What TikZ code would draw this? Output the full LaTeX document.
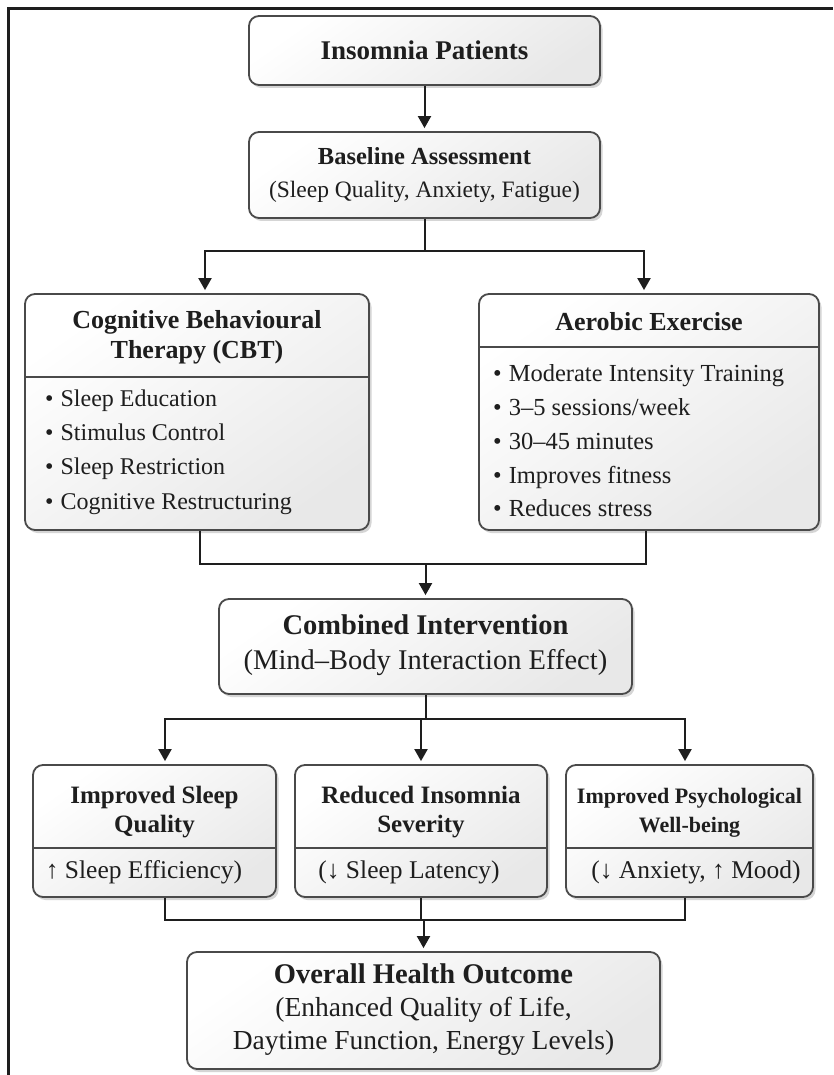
\documentclass[tikz,border=0pt]{standalone}
\usepackage{fontspec}
\setmainfont{Liberation Serif}
\usetikzlibrary{arrows.meta,shadows,calc}
\definecolor{ink}{HTML}{1E1E1E}
\definecolor{edge}{HTML}{4A4A4A}
\newcommand\fsz[2]{\fontsize{#1}{#2}\selectfont}
\begin{document}
\begin{tikzpicture}[x=1pt,y=-1pt,
  box/.style={draw=edge, line width=1.8pt, rounded corners=10pt,
    top color=white, bottom color=gray!18, shading angle=35,
    drop shadow={shadow xshift=2.5pt, shadow yshift=-3pt, fill=gray!55, opacity=0.6},
    inner sep=0pt},
  txt/.style={inner sep=0pt, text=ink, align=center},
  bul/.style={inner sep=0pt, text=ink, align=left, anchor=west},
  link/.style={draw=ink, line width=2pt},
  arr/.style={link, -{Triangle[length=12pt,width=13pt]}, shorten >=3pt},
  divider/.style={draw=edge, line width=1.6pt},
  frame/.style={draw=ink, line width=2.2pt}
]
\useasboundingbox (0,0) rectangle (833,1075);
\fill[white] (0,0) rectangle (833,1075);
\draw[frame] (8.5,1075) -- (8.5,8.5) -- (833,8.5);

% boxes
\node[box, minimum width=351pt, minimum height=69pt] (p) at (424.5,50.5) {};
\node[txt, font={\bfseries\fsz{27}{32}}] (pT) at (p.center) {Insomnia Patients};

\node[box, minimum width=351pt, minimum height=86pt] (b) at (424.5,175) {};
\node[txt, font={\fsz{23.5}{33}}] (bT) at (b.center) {{\bfseries\fsz{24.5}{33}Baseline Assessment}\\(Sleep Quality, Anxiety, Fatigue)};

\node[box, minimum width=344pt, minimum height=236pt] (cbt) at (197,412) {};
\draw[divider] ([yshift=-84pt]cbt.north west) -- ([yshift=-84pt]cbt.north east);
\node[txt, font={\bfseries\fsz{26}{30}}] (cbtT) at (197,337) {Cognitive Behavioural\\Therapy (CBT)};
\node[bul, font={\fsz{24}{34.3}}] (cbtL) at (45,452) {\textbullet\hspace{7pt}Sleep Education\\\textbullet\hspace{7pt}Stimulus Control\\\textbullet\hspace{7pt}Sleep Restriction\\\textbullet\hspace{7pt}Cognitive Restructuring};

\node[box, minimum width=340pt, minimum height=236pt] (aer) at (649,412) {};
\draw[divider] ([yshift=-54pt]aer.north west) -- ([yshift=-54pt]aer.north east);
\node[txt, font={\bfseries\fsz{26}{30}}] (aerT) at (649,322) {Aerobic Exercise};
\node[bul, font={\fsz{24.5}{33.75}}] (aerL) at (493,441) {\textbullet\hspace{7pt}Moderate Intensity Training\\\textbullet\hspace{7pt}3–5 sessions/week\\\textbullet\hspace{7pt}30–45 minutes\\\textbullet\hspace{7pt}Improves fitness\\\textbullet\hspace{7pt}Reduces stress};

\node[box, minimum width=413pt, minimum height=95pt] (comb) at (425.5,646.5) {};
\node[txt, font={\fsz{28.5}{35}}] (combT) at (425.5,645) {{\bfseries Combined Intervention}\\(Mind–Body Interaction Effect)};

\node[box, minimum width=243pt, minimum height=132pt] (A) at (154.5,831) {};
\node[box, minimum width=252pt, minimum height=132pt] (B) at (421,831) {};
\node[box, minimum width=247pt, minimum height=132pt] (C) at (689.5,831) {};
\foreach \n in {A,B,C}{
  \draw[divider] ([yshift=-84pt]\n.north west) -- ([yshift=-84pt]\n.north east);
}
\node[txt, font={\bfseries\fsz{25}{29}}] (AT) at (154.5,812.5) {Improved Sleep\\Quality};
\node[txt, font={\bfseries\fsz{25}{29}}] (BT) at (421,812.5) {Reduced Insomnia\\Severity};
\node[txt, font={\bfseries\fsz{22}{29}}] (CT) at (689.5,812.5) {Improved Psychological\\Well-being};
\node[txt, font={\fsz{25.5}{30}}] (AS) at (144,872) {↑ Sleep Efficiency)};
\node[txt, font={\fsz{25.5}{30}}] (BS) at (409,872) {(↓ Sleep Latency)};
\node[txt, font={\fsz{25.5}{30}}] (CS) at (696,872) {(↓ Anxiety, ↑ Mood)};

\node[box, minimum width=473pt, minimum height=117pt] (out) at (423.5,1010.5) {};
\node[txt, font={\fsz{27.5}{33}}] (outT) at (423.5,1010) {{\bfseries\fsz{28.5}{33}Overall Health Outcome}\\(Enhanced Quality of Life,\\Daytime Function, Energy Levels)};

% connectors
\draw[arr] (p.south) -- (b.north);
\coordinate (j1) at ($(b.south)+(0,32)$);
\draw[link] (b.south) -- (j1);
\draw[arr] (j1) -| ([xshift=8pt]cbt.north);
\draw[arr] (j1) -| ([xshift=-5pt]aer.north);

\coordinate (j2) at ($(comb.north)+(0,-34)$);
\draw[link] ([xshift=3pt]cbt.south) |- (j2) -| ([xshift=-3pt]aer.south);
\draw[arr] (j2) -- (comb.north);

\coordinate (j3) at ($(comb.south)+(0,24)$);
\draw[link] (comb.south) -- (j3);
\draw[arr] (j3) -| ([xshift=10.5pt]A.north);
\draw[arr] (j3) -| (B.north);
\draw[arr] (j3) -| ([xshift=-4.5pt]C.north);

\coordinate (j4) at ($(out.north)+(0,-31)$);
\draw[link] ([xshift=10.5pt]A.south) |- (j4) -| ([xshift=-4.5pt]C.south);
\draw[link] (B.south) -- (B.south |- j4);
\draw[arr] (j4) -- (out.north);
\end{tikzpicture}
\end{document}
